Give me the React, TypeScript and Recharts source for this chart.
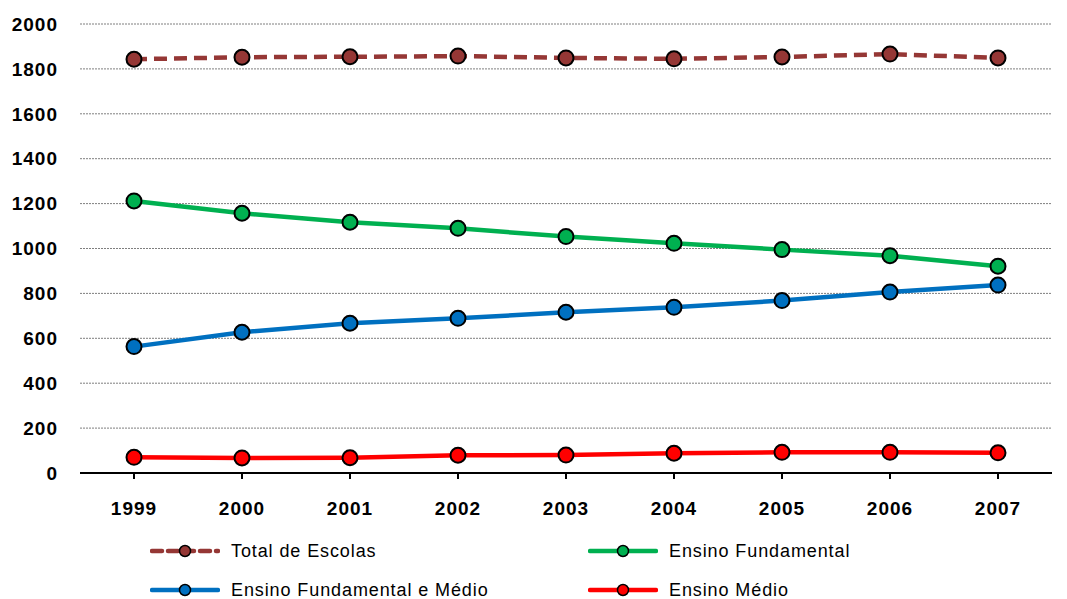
import React from "react";
import { LineChart, Line, XAxis, YAxis, CartesianGrid, Legend } from "recharts";

const years = ["1999", "2000", "2001", "2002", "2003", "2004", "2005", "2006", "2007"];
const totalEscolas = [1843, 1852, 1854, 1857, 1849, 1845, 1853, 1866, 1849];
const ensinoFundamental = [1212, 1157, 1117, 1090, 1053, 1023, 995, 968, 921];
const fundamentalMedio = [563, 627, 667, 689, 716, 738, 768, 806, 837];
const ensinoMedio = [70, 67, 68, 79, 80, 88, 92, 92, 90];
const yTicks = [0, 200, 400, 600, 800, 1000, 1200, 1400, 1600, 1800, 2000];

const data = years.map((year, i) => ({
  year,
  total: totalEscolas[i],
  fundamental: ensinoFundamental[i],
  fundMedio: fundamentalMedio[i],
  medio: ensinoMedio[i],
}));

const series = [
  { key: "total", name: "Total de Escolas", color: "#953735", dash: "13 7" },
  { key: "fundamental", name: "Ensino Fundamental", color: "#00B050" },
  { key: "fundMedio", name: "Ensino Fundamental e Médio", color: "#0070C0" },
  { key: "medio", name: "Ensino Médio", color: "#FF0000" },
];

const font = "'Liberation Sans', Arial, sans-serif";
const tickStyle = { fill: "#000", fontSize: 19, fontWeight: "bold", fontFamily: font, letterSpacing: 1 };

// two-column legend under the axis
const legendPos = [
  { left: 142, top: 28 },
  { left: 580, top: 28 },
  { left: 142, top: 67 },
  { left: 580, top: 67 },
];

const LegendBox = () => (
  <div style={{ position: "relative", width: 1059, height: 76, fontFamily: font }}>
    {series.map((s, i) => (
      <div
        key={s.key}
        style={{
          position: "absolute",
          left: legendPos[i].left,
          top: legendPos[i].top - 12,
          height: 24,
          display: "flex",
          alignItems: "center",
        }}
      >
        <svg width={70} height={24}>
          <line
            x1={2}
            x2={68}
            y1={12}
            y2={12}
            stroke={s.color}
            strokeWidth={4.5}
            strokeDasharray={s.dash ? "10 6" : undefined}
            strokeLinecap="round"
          />
          <circle cx={35} cy={12} r={5.5} fill={s.color} stroke="#000" strokeWidth={1.5} />
        </svg>
        <span style={{ marginLeft: 11, fontSize: 18, letterSpacing: 0.9, color: "#000", whiteSpace: "nowrap" }}>
          {s.name}
        </span>
      </div>
    ))}
  </div>
);

export default function App() {
  return (
    <LineChart
      width={1059}
      height={591}
      data={data}
      margin={{ top: 16, right: 15, bottom: 0, left: 0 }}
    >
      <CartesianGrid vertical={false} stroke="#7f7f7f" strokeDasharray="2 1" />
      <XAxis
        dataKey="year"
        scale="band"
        height={50}
        axisLine={{ stroke: "#000", strokeWidth: 2 }}
        tickLine={{ stroke: "#000", strokeWidth: 2 }}
        tickSize={6}
        tickMargin={23}
        tick={tickStyle}
      />
      <YAxis
        width={72}
        domain={[0, 2000]}
        ticks={yTicks}
        axisLine={false}
        tickLine={false}
        tickSize={0}
        tickMargin={22}
        tick={tickStyle}
      />
      <Legend verticalAlign="bottom" height={76} content={() => <LegendBox />} />
      {series.map((s) => (
        <Line
          key={s.key}
          dataKey={s.key}
          name={s.name}
          type="linear"
          stroke={s.color}
          strokeWidth={4.5}
          strokeDasharray={s.dash}
          dot={{ r: 7.5, fill: s.color, stroke: "#000", strokeWidth: 2, strokeDasharray: "" }}
          activeDot={false}
          isAnimationActive={false}
        />
      ))}
    </LineChart>
  );
}
